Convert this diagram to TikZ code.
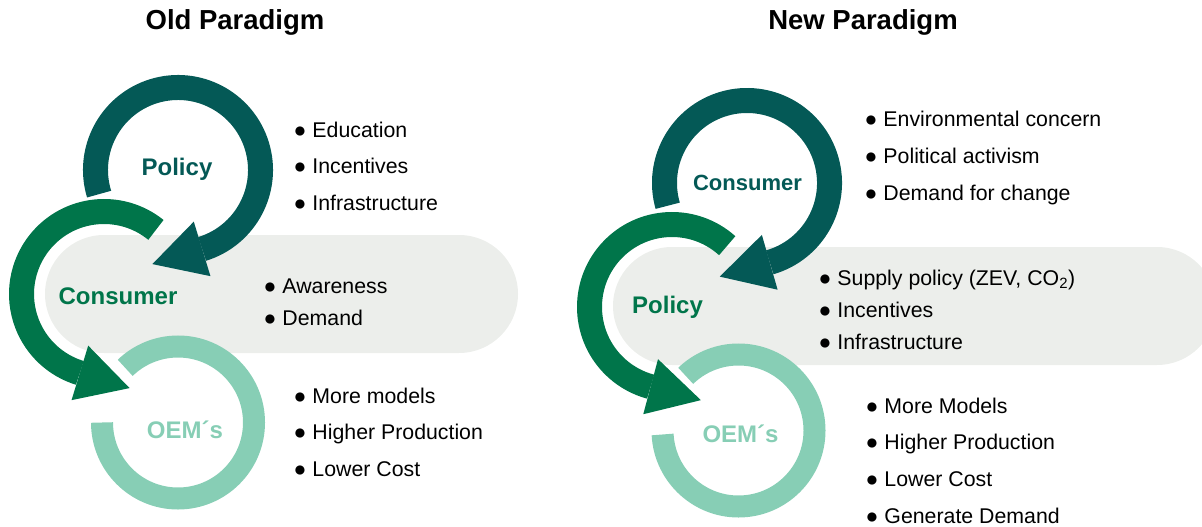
\documentclass[tikz,border=0pt]{standalone}
\usepackage{fontspec}
\setmainfont{Liberation Sans}
\usetikzlibrary{calc}
\definecolor{cDeep}{HTML}{045956}
\definecolor{cMid}{HTML}{00754A}
\definecolor{cSoft}{HTML}{87CEB5}
\definecolor{cBand}{HTML}{ECEEEB}

\begin{document}
\begin{tikzpicture}[
  x=1pt, y=-1pt,
  band/.style={fill=cBand, rounded corners=59pt},
  loop/.style={draw=#1, line width=25pt},
  soft/.style={draw=cSoft, line width=22pt},
  hub/.style={font=\bfseries\fontsize{24}{24}\selectfont, text=#1, anchor=base, inner sep=0pt},
  head/.style={font=\bfseries\fontsize{27.5}{28}\selectfont, anchor=base, inner sep=0pt},
  item/.style={font=\fontsize{21.3}{25}\selectfont, anchor=base west, inner sep=0pt},
]
\useasboundingbox (0,0) rectangle (1202,527);

% ring centres
\coordinate (oldP) at (178,170);
\coordinate (oldC) at (104,294);
\coordinate (oldO) at (178,422.5);
\coordinate (newC) at (747,183);
\coordinate (newP) at (672,307);
\coordinate (newO) at (738.5,430.5);

% grey bands behind the middle step
\begin{scope}
  \clip (0,0) rectangle (1202,527);
  \fill[band] (45,235) rectangle (518,353);
  \fill[band] (613,247) rectangle (1216,365);
\end{scope}

% =========================== OLD PARADIGM ===========================
\node[head] (oldtitle) at (235,30) {Old Paradigm};

% top cycle, arrow into the middle step
\draw[loop=cDeep] ($(oldP)+(-197:82.5)$) arc[start angle=-197, end angle=73, radius=82.5];
\fill[cDeep] ($(oldP)+(73:54)$) -- ($(oldP)+(73:111)$) -- ($(oldP)+(73:82.5)+(163:52)$) -- cycle;

% middle cycle, arrow into the bottom step
\draw[loop=cMid] ($(oldC)+(-51:82.5)$) arc[start angle=-51, end angle=-253, radius=82.5];
\fill[cMid] ($(oldC)+(-253:54)$) -- ($(oldC)+(-253:111)$) -- ($(oldC)+(-253:82.5)+(-343:52)$) -- cycle;

% bottom cycle
\draw[soft] ($(oldO)+(180:76)$) arc[start angle=180, end angle=-134, radius=76];

\node[hub=cDeep] (oldpolicy) at (177,175) {Policy};
\node[hub=cMid] (oldconsumer) at (118,304) {Consumer};
\node[hub=cSoft] (oldoem) at (185,438) {OEM´s};

\foreach \txt [count=\i] in {Education, Incentives, Infrastructure}
  \node[item] (oldtop\i) at (293.5,{137+36.5*(\i-1)}) {● \txt};
\foreach \txt [count=\i] in {Awareness, Demand}
  \node[item] (oldmid\i) at (263.5,{293+32*(\i-1)}) {● \txt};
\foreach \txt [count=\i] in {More models, Higher Production, Lower Cost}
  \node[item] (oldlow\i) at (293.5,{403+36.5*(\i-1)}) {● \txt};

% =========================== NEW PARADIGM ===========================
\node[head] (newtitle) at (863,30) {New Paradigm};

\draw[loop=cDeep] ($(newC)+(-196:82.5)$) arc[start angle=-196, end angle=74, radius=82.5];
\fill[cDeep] ($(newC)+(74:54)$) -- ($(newC)+(74:111)$) -- ($(newC)+(74:82.5)+(164:52)$) -- cycle;

\draw[loop=cMid] ($(newP)+(-48:82.5)$) arc[start angle=-48, end angle=-255, radius=82.5];
\fill[cMid] ($(newP)+(-255:54)$) -- ($(newP)+(-255:111)$) -- ($(newP)+(-255:82.5)+(-345:52)$) -- cycle;

\draw[soft] ($(newO)+(177:76)$) arc[start angle=177, end angle=-134, radius=76];

\node[hub=cDeep, font=\bfseries\fontsize{22}{22}\selectfont] (newconsumer) at (747.5,190) {Consumer};
\node[hub=cMid] (newpolicy) at (667.5,313) {Policy};
\node[hub=cSoft] (newoem) at (740.5,442) {OEM´s};

\foreach \txt [count=\i] in {Environmental concern, Political activism, Demand for change}
  \node[item] (newtop\i) at (864.5,{126+37*(\i-1)}) {● \txt};
\foreach \txt [count=\i] in {{Supply policy (ZEV, CO\textsubscript{2})}, Incentives, Infrastructure}
  \node[item] (newmid\i) at (818.5,{285+32*(\i-1)}) {● \txt};
\foreach \txt [count=\i] in {More Models, Higher Production, Lower Cost, Generate Demand}
  \node[item] (newlow\i) at (865.5,{413+36.7*(\i-1)}) {● \txt};

\end{tikzpicture}
\end{document}
